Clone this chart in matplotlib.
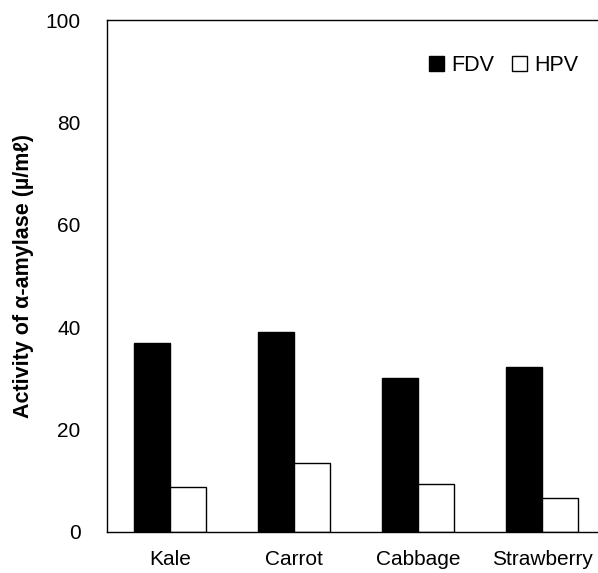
import numpy as np
import matplotlib.pyplot as plt
from matplotlib.patches import Patch

# data
categories = ["Kale", "Carrot", "Cabbage", "Strawberry"]
fdv = [36.9, 39.1, 30.1, 32.2]
hpv = [8.8, 13.5, 9.4, 6.6]
yticks = [0, 20, 40, 60, 80, 100]

plt.rcParams['font.family'] = ['Liberation Sans', 'DejaVu Sans']

fig = plt.figure(figsize=(5.98, 5.73), dpi=100)
ax = fig.add_axes([0.179, 0.0716, 0.821, 0.893])

x = np.arange(len(categories))
w = 0.29
ax.bar(x - w / 2, fdv, width=w, color="black", edgecolor="black", linewidth=1)
ax.bar(x + w / 2, hpv, width=w, color="white", edgecolor="black", linewidth=1)

ax.set_xlim(-0.508, 3.45)
ax.set_ylim(0, 100)
ax.set_yticks(yticks)
ax.set_xticks(x)
ax.set_xticklabels(categories)
ax.tick_params(axis="both", length=0, labelsize=15)
ax.tick_params(axis="y", pad=19)
ax.tick_params(axis="x", pad=13)
ax.spines["right"].set_visible(False)
for s in ["left", "top", "bottom"]:
    ax.spines[s].set_linewidth(1.0)

ax.set_ylabel("Activity of α-amylase (µ/mℓ)", fontsize=15.5, fontweight="bold")
ax.yaxis.set_label_coords(-0.149, 0.5)

handles = [Patch(facecolor="black", edgecolor="black", label="FDV"),
           Patch(facecolor="white", edgecolor="black", label="HPV")]
ax.legend(handles=handles, ncol=2, frameon=False, fontsize=15.5,
          loc="upper right", bbox_to_anchor=(1.0, 0.97),
          handlelength=0.7, handleheight=0.7, handletextpad=0.35, columnspacing=0.8)

plt.savefig("out.png", dpi=100)
